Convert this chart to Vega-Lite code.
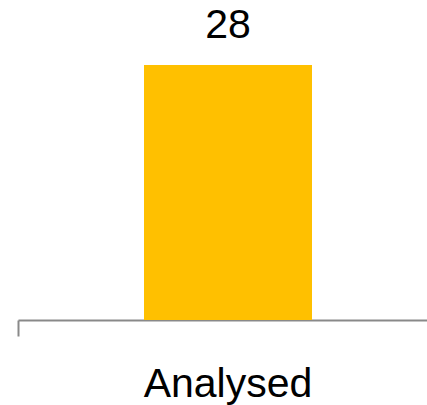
{
  "$schema": "https://vega.github.io/schema/vega-lite/v6.json",
  "width": 420,
  "height": 255,
  "autosize": {"type": "none"},
  "padding": {"left": 18, "top": 65, "right": 0, "bottom": 85},
  "background": "white",
  "config": {"view": {"stroke": null}},
  "data": {"values": [{"category": "Analysed", "count": 28}]},
  "encoding": {
    "x": {
      "field": "category",
      "type": "nominal",
      "scale": {"paddingInner": 0, "paddingOuter": 0},
      "axis": {
        "title": null,
        "labelAngle": 0,
        "labelFont": "Liberation Sans",
        "labelFontSize": 41,
        "labelColor": "#000000",
        "labelBaseline": "alphabetic",
        "labelPadding": 60,
        "tickSize": 16,
        "tickColor": "#898989",
        "tickWidth": 2,
        "domainColor": "#898989",
        "domainWidth": 2,
        "bandPosition": 0,
        "labelBound": false,
        "labelOverlap": false
      }
    },
    "y": {
      "field": "count",
      "type": "quantitative",
      "scale": {"domain": [0, 28], "nice": false},
      "axis": null
    }
  },
  "layer": [
    {"mark": {"type": "bar", "color": "#FFC000", "width": {"band": 0.4}}},
    {
      "mark": {"type": "text", "font": "Liberation Sans", "fontSize": 41, "color": "#000000", "baseline": "alphabetic", "dy": -27},
      "encoding": {"text": {"field": "count", "type": "quantitative"}}
    }
  ]
}
